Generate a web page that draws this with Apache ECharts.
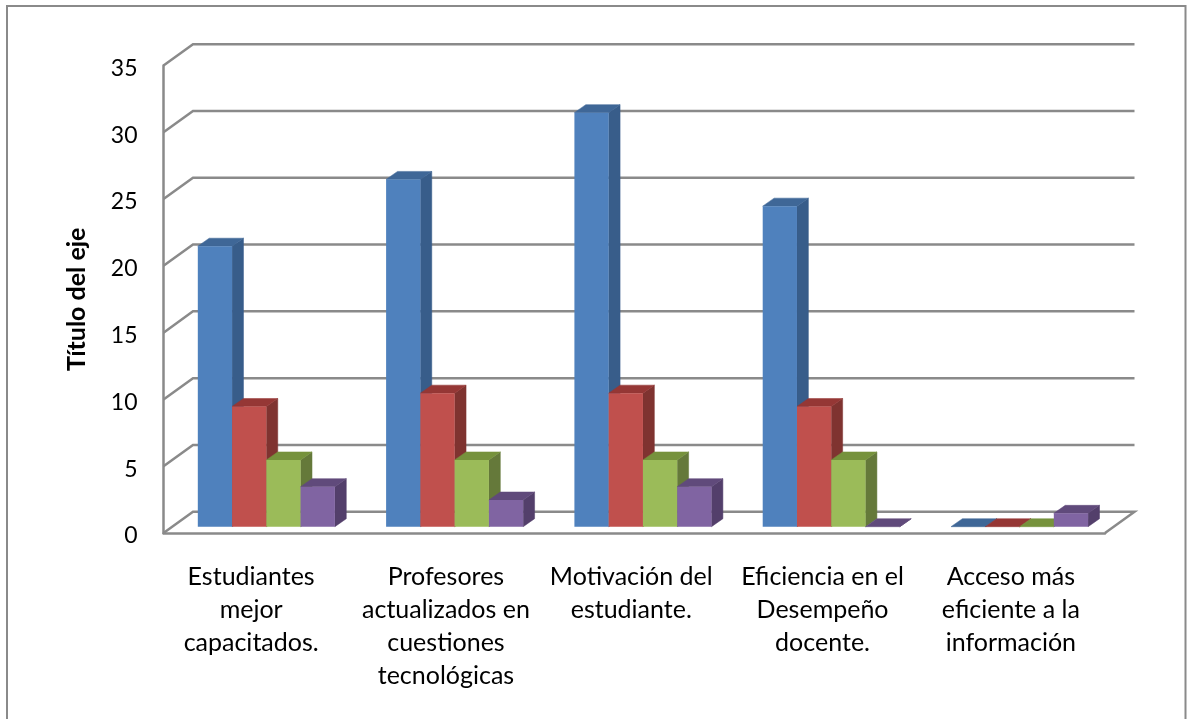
<!DOCTYPE html>
<html><head><meta charset="utf-8">
<style>html,body{margin:0;padding:0;background:#fff}#c{width:1187px;height:719px}</style>
<script src="https://cdn.jsdelivr.net/npm/echarts@6/dist/echarts.min.js"></script>
</head><body><div id="c"></div>
<script>
const categories = ['Estudiantes\nmejor\ncapacitados.','Profesores\nactualizados en\ncuestiones\ntecnológicas','Motivación del\nestudiante.','Eficiencia en el\nDesempeño\ndocente.','Acceso más\neficiente a la\ninformación'];
const serie1 = [21,26,31,24,0];
const serie2 = [9,10,10,9,0];
const serie3 = [5,5,5,5,0];
const serie4 = [3,2,3,0,1];
const yTicks = [0,5,10,15,20,25,30,35];
const palette = [
  {front:'#4F81BD',side:'#385D8A',top:'#3F6797'},
  {front:'#C0504D',side:'#7F3330',top:'#953735'},
  {front:'#9BBB59',side:'#65793A',top:'#76923C'},
  {front:'#8064A2',side:'#533F6B',top:'#604A7B'}
];
const WALL_DX=29.5, WALL_DY=21.3, FLOOR_DX=8.7, FLOOR_DY=6.3, BAR_DX=11.4, BAR_DY=8, BAR_FRAC=0.182, LINE='#8a8a8a';
const labelStyle={color:'#000',fontFamily:'Lato',fontSize:25,lineHeight:32.7};

function wallItem(params, api){
  const cs=params.coordSys, v=api.value(1), y=api.coord([0,v])[1];
  const x0=cs.x, x1=cs.x+cs.width;
  const pts=[[x0,y],[x0+WALL_DX,y-WALL_DY],[x1+WALL_DX,y-WALL_DY]];
  if(v===0) pts.push([x1,y]);
  return {type:'polyline',shape:{points:pts},style:{fill:null,stroke:LINE,lineWidth:2.5},silent:true};
}
function barItem(idx){
  return function(params, api){
    const band=api.size([1,0])[0], w=band*BAR_FRAC;
    const c=api.value(0), p=palette[idx];
    const base=api.coord([c,0]), top=api.coord([c,api.value(1)]);
    const l=base[0]-2*w+idx*w+FLOOR_DX, r=l+w, b=base[1]-FLOOR_DY, t=top[1]-FLOOR_DY;
    const poly=(pts,fill)=>({type:'polygon',shape:{points:pts},style:{fill:fill,stroke:fill,lineWidth:0.5}});
    return {type:'group',children:[
      poly([[r,b],[r+BAR_DX,b-BAR_DY],[r+BAR_DX,t-BAR_DY],[r,t]],p.side),
      poly([[l,t],[l+BAR_DX,t-BAR_DY],[r+BAR_DX,t-BAR_DY],[r,t]],p.top),
      {type:'rect',shape:{x:l,y:t,width:w,height:b-t},style:{fill:p.front}}
    ]};
  };
}
const seriesData=[serie1,serie2,serie3,serie4];
const chart=echarts.init(document.getElementById('c'),null,{renderer:'canvas'});
chart.setOption({
  animation:false,
  backgroundColor:'#fff',
  textStyle:{fontFamily:'Lato'},
  graphic:[{type:'rect',silent:true,z:-10,shape:{x:7,y:6,width:1178.5,height:730},style:{fill:'#fff',stroke:LINE,lineWidth:2}}],
  grid:{left:163.5,top:65.5,width:941.5,height:467.5,containLabel:false},
  xAxis:{type:'category',data:categories,axisTick:{show:false},
    axisLine:{lineStyle:{color:LINE,width:2.5}},
    axisLabel:{interval:0,margin:28,align:'center',verticalAlign:'top',...labelStyle,
      formatter:(v,i)=>v.split('\n').map(l=>`{c${i}|${l}}`).join('\n'),
      rich:{
        c0:{...labelStyle,padding:[0,13,0,0]},
        c1:{...labelStyle},
        c2:{...labelStyle,padding:[0,6,0,0]},
        c3:{...labelStyle},
        c4:{...labelStyle}
      }}},
  yAxis:{type:'value',min:0,max:35,interval:5,name:'Título del eje',nameLocation:'middle',nameGap:74,
    nameTextStyle:{color:'#000',fontFamily:'Lato',fontWeight:'bold',fontSize:25},
    splitLine:{show:false},axisTick:{show:false},
    axisLine:{show:true,lineStyle:{color:LINE,width:2.5}},
    axisLabel:{margin:26,color:'#000',fontFamily:'Lato',fontSize:23,
      formatter:v=>`{n|${v}}`,
      rich:{n:{color:'#000',fontFamily:'Lato',fontSize:23,padding:[6,0,0,0]}}}},
  series:[
    {type:'custom',name:'Paredes',renderItem:wallItem,clip:false,silent:true,z:1,data:yTicks.map(v=>[0,v]),encode:{x:0,y:1}},
    ...seriesData.map((d,i)=>({type:'custom',name:'Serie '+(i+1),renderItem:barItem(i),clip:false,z:2+i,
      data:d.map((v,c)=>[c,v]),encode:{x:0,y:1}}))
  ]
});
</script></body></html>
